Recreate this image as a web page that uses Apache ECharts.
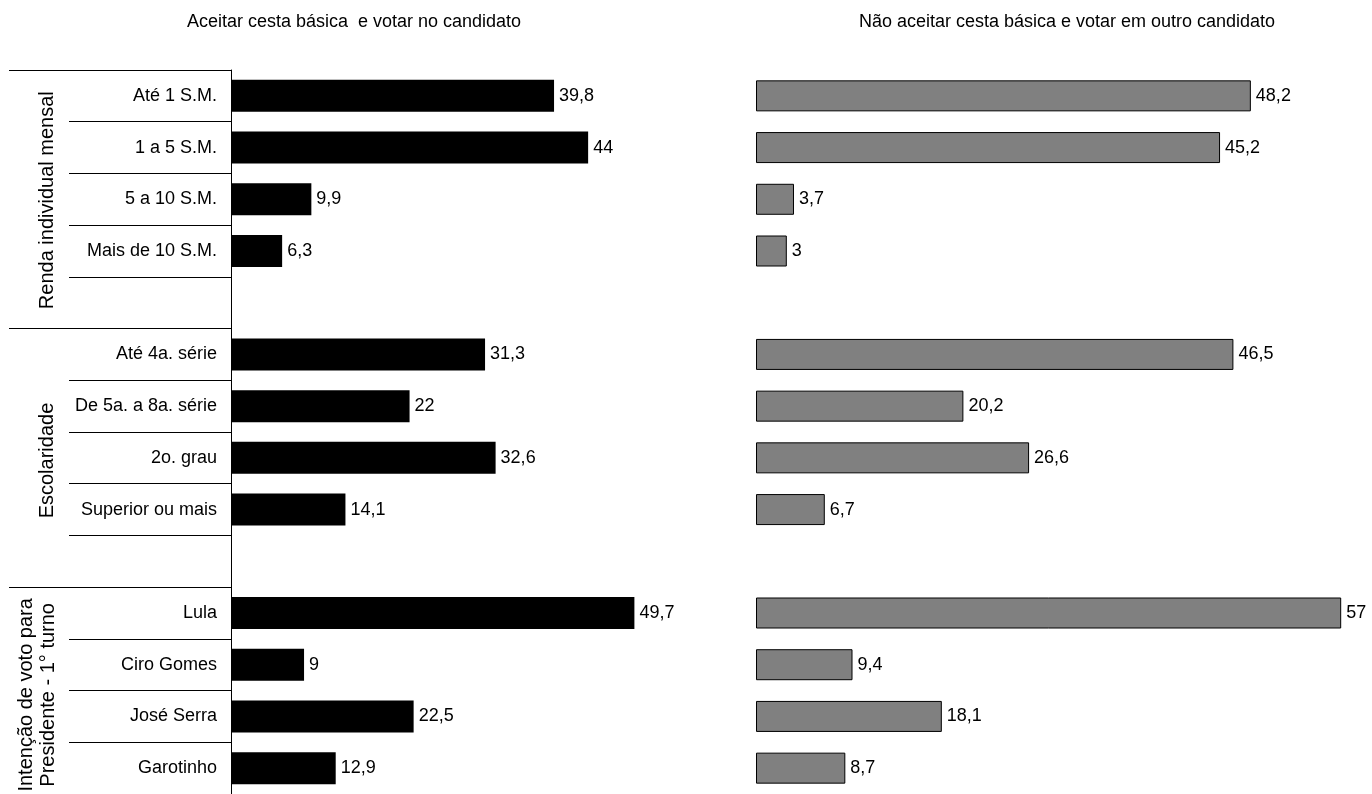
<!DOCTYPE html>
<html>
<head>
<meta charset="utf-8">
<script src="https://cdn.jsdelivr.net/npm/echarts@6/dist/echarts.min.js"></script>
<style>
html,body{margin:0;padding:0;background:#fff;}
#chart{width:1372px;height:794px;}
</style>
</head>
<body>
<div id="chart"></div>
<script>
// ---- data ----
var categories = ['Até 1 S.M.', '1 a 5 S.M.', '5 a 10 S.M.', 'Mais de 10 S.M.', ' ',
  'Até 4a. série', 'De 5a. a 8a. série', '2o. grau', 'Superior ou mais', '  ',
  'Lula', 'Ciro Gomes', 'José Serra', 'Garotinho'];
var aceitar = [39.8, 44, 9.9, 6.3, null, 31.3, 22, 32.6, 14.1, null, 49.7, 9, 22.5, 12.9];
var naoAceitar = [48.2, 45.2, 3.7, 3, null, 46.5, 20.2, 26.6, 6.7, null, 57, 9.4, 18.1, 8.7];
var groupLabels = ['Renda individual mensal', 'Escolaridade', 'Intenção de voto para\nPresidente - 1° turno'];
var groupStarts = [0, 5, 10];
var groupEnds = [5, 10, 14];
var titleLeft = 'Aceitar cesta básica  e votar no candidato';
var titleRight = 'Não aceitar cesta básica e votar em outro candidato';

// ---- layout ----
var FONT = '"Liberation Sans", Arial, sans-serif';
var gridTop = 70, gridHeight = 729;
var rowH = gridHeight / categories.length;
var xMax = 60;

var chart = echarts.init(document.getElementById('chart'), null, {renderer: 'canvas'});

function fmt(p) { return String(p.value).replace('.', ','); }

var graphics = [
  {type: 'text', style: {text: titleLeft, x: 354, y: 22, textAlign: 'center', textVerticalAlign: 'middle', font: '18px ' + FONT, fill: '#000'}},
  {type: 'text', style: {text: titleRight, x: 1067, y: 22, textAlign: 'center', textVerticalAlign: 'middle', font: '18px ' + FONT, fill: '#000'}}
];
var groupX = [47, 47, 37];
groupLabels.forEach(function (t, i) {
  var cy = gridTop + rowH * (groupStarts[i] + groupEnds[i]) / 2;
  graphics.push({
    type: 'text', x: groupX[i], y: cy, rotation: Math.PI / 2,
    style: {text: t, x: 0, y: 0, textAlign: 'center', textVerticalAlign: 'middle', font: '20px ' + FONT, fill: '#000', lineHeight: 22}
  });
});

var option = {
  animation: false,
  backgroundColor: '#fff',
  textStyle: {fontFamily: FONT},
  grid: [
    {left: 231, top: gridTop, width: 487, height: gridHeight, containLabel: false},
    {left: 756, top: gridTop, width: 619, height: gridHeight, containLabel: false}
  ],
  xAxis: [
    {type: 'value', gridIndex: 0, min: 0, max: xMax, show: false},
    {type: 'value', gridIndex: 1, min: 0, max: xMax, show: false}
  ],
  yAxis: [
    {
      type: 'category', gridIndex: 0, data: categories, inverse: true, position: 'left',
      axisLine: {show: true, lineStyle: {color: '#000', width: 1}},
      axisTick: {show: true, length: 162, lineStyle: {color: '#000', width: 1}},
      axisLabel: {show: true, margin: 14, fontSize: 18, color: '#000', fontFamily: FONT},
      splitLine: {show: false}
    },
    {
      type: 'category', gridIndex: 0, data: categories, inverse: true, position: 'left', offset: 0,
      axisLine: {show: false},
      axisTick: {show: true, length: 222, lineStyle: {color: '#000', width: 1},
        interval: function (idx) { return groupStarts.indexOf(idx) >= 0; }},
      axisLabel: {show: false},
      splitLine: {show: false}
    },
    {type: 'category', gridIndex: 1, data: categories, inverse: true, show: false}
  ],
  series: [
    {
      type: 'bar', xAxisIndex: 0, yAxisIndex: 0, data: aceitar, barWidth: 32,
      itemStyle: {color: '#000'},
      label: {show: true, position: 'right', distance: 5, fontSize: 18, color: '#000', fontFamily: FONT, formatter: fmt}
    },
    {
      type: 'bar', xAxisIndex: 1, yAxisIndex: 2, data: naoAceitar, barWidth: 31,
      itemStyle: {color: '#808080', borderColor: '#000', borderWidth: 1},
      label: {show: true, position: 'right', distance: 5, fontSize: 18, color: '#000', fontFamily: FONT, formatter: fmt}
    }
  ],
  graphic: graphics
};
chart.setOption(option);
</script>
</body>
</html>
